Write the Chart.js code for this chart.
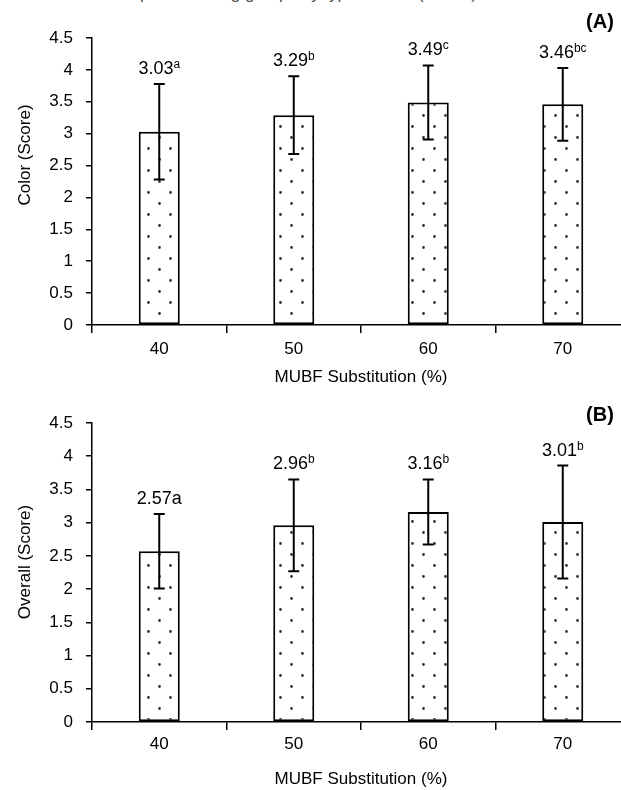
<!DOCTYPE html>
<html>
<head>
<meta charset="utf-8">
<script src="https://cdn.jsdelivr.net/npm/chart.js@4.4.0/dist/chart.umd.min.js"></script>
<style>
  html, body { margin: 0; padding: 0; background: #fff; overflow: hidden; }
  #wrap { position: relative; width: 621px; height: 790px; overflow: hidden; }
  .panel { position: absolute; left: 0; width: 640px; height: 395px; }
  #leyenda { position: absolute; top: -16px; left: 108px; font: 17px 'Liberation Sans', sans-serif; color: #555; white-space: nowrap; }
</style>
</head>
<body>
<div id="wrap">
  <div id="leyenda">compared among groups by type of flour (n = 30)</div>
  <div class="panel" style="top:0"><canvas id="chart-color" width="640" height="395"></canvas></div>
  <div class="panel" style="top:395px"><canvas id="chart-general" width="640" height="395"></canvas></div>
</div>
<script>
// Datos
const sustitucion = ['40', '50', '60', '70'];
const colorMedia = [3.03, 3.29, 3.49, 3.46];
const colorDE = [0.75, 0.61, 0.58, 0.57];
const colorLetras = ['a', 'b', 'c', 'bc'];
const generalMedia = [2.57, 2.96, 3.16, 3.01];
const generalDE = [0.56, 0.69, 0.49, 0.85];
const generalLetras = ['a', 'b', 'b', 'b'];
const generalSuper = [false, true, true, true];

const FUENTE = "'Liberation Sans', Arial, sans-serif";

// Relleno punteado de las barras
function crearPatron(ctx) {
    const c = document.createElement('canvas');
    c.width = 22; c.height = 22;
    const g = c.getContext('2d');
    g.fillStyle = '#fff';
    g.fillRect(0, 0, 22, 22);
    g.fillStyle = '#333';
    g.beginPath();
    g.arc(5.5, 5.5, 1.4, 0, Math.PI * 2);
    g.arc(16.5, 16.5, 1.4, 0, Math.PI * 2);
    g.fill();
    return ctx.createPattern(c, 'repeat');
}

// Barras de error, etiquetas, titulo del eje Y y letra del panel
const extras = {
    id: 'extras',
    afterDatasetsDraw(chart, args, opts) {
        const ctx = chart.ctx;
        const y = chart.scales.y;
        const meta = chart.getDatasetMeta(0);
        ctx.save();
        ctx.strokeStyle = '#000';
        ctx.lineWidth = 2;
        meta.data.forEach((bar, i) => {
            const m = opts.medias[i], de = opts.de[i];
            const yTop = y.getPixelForValue(m + de);
            const yBot = y.getPixelForValue(m - de);
            const x = bar.x;
            ctx.beginPath();
            ctx.moveTo(x, yTop); ctx.lineTo(x, yBot);
            ctx.moveTo(x - 5.5, yTop); ctx.lineTo(x + 5.5, yTop);
            ctx.moveTo(x - 5.5, yBot); ctx.lineTo(x + 5.5, yBot);
            ctx.stroke();

            // etiqueta con letra
            const texto = m.toFixed(2);
            const letra = opts.letras[i];
            const sup = opts.sup ? opts.sup[i] : true;
            const fPrin = '18px ' + FUENTE;
            const fSup = (sup ? '12px ' : '18px ') + FUENTE;
            ctx.font = fPrin;
            const w1 = ctx.measureText(texto).width;
            ctx.font = fSup;
            const w2 = ctx.measureText(letra).width;
            const x0 = x - (w1 + w2) / 2;
            const base = yTop - 10;
            ctx.fillStyle = '#000';
            ctx.textAlign = 'left';
            ctx.textBaseline = 'alphabetic';
            ctx.font = fPrin;
            ctx.fillText(texto, x0, base);
            ctx.font = fSup;
            ctx.fillText(letra, x0 + w1, sup ? base - 6 : base);
        });

        // titulo eje Y
        ctx.save();
        ctx.translate(opts.tituloX, opts.tituloY);
        ctx.rotate(-Math.PI / 2);
        ctx.font = '17px ' + FUENTE;
        ctx.textAlign = 'center';
        ctx.textBaseline = 'middle';
        ctx.fillText(opts.tituloY_texto, 0, 0);
        ctx.restore();

        // letra del panel
        ctx.font = 'bold 20px ' + FUENTE;
        ctx.textAlign = 'center';
        ctx.textBaseline = 'middle';
        ctx.fillText(opts.panel, 600, opts.panelY);
        ctx.restore();
    }
};

function crearGrafico(id, medias, de, letras, sup, cfg) {
    const canvas = document.getElementById(id);
    const ctx = canvas.getContext('2d');
    return new Chart(canvas, {
        type: 'bar',
        data: {
            labels: sustitucion,
            datasets: [{
                data: medias,
                backgroundColor: crearPatron(ctx),
                borderColor: '#000',
                borderWidth: 2,
                borderSkipped: false,
                categoryPercentage: 1,
                barPercentage: 0.305
            }]
        },
        options: {
            responsive: false,
            animation: false,
            layout: { padding: { top: cfg.arriba, right: 10, left: 0, bottom: 0 } },
            plugins: {
                legend: { display: false },
                tooltip: { enabled: false },
                extras: {
                    medias: medias, de: de, letras: letras, sup: sup,
                    tituloX: 25, tituloY: cfg.tituloY, tituloY_texto: cfg.tituloTexto,
                    panel: cfg.panel, panelY: cfg.panelY
                }
            },
            scales: {
                x: {
                    afterFit(s) { s.height = cfg.altoX; },
                    border: { display: true, color: '#000', width: 1.5 },
                    grid: { drawOnChartArea: false, drawTicks: true, tickLength: 8, color: '#000', lineWidth: 1.5 },
                    ticks: { color: '#000', padding: cfg.padX, font: { size: 17, family: FUENTE } },
                    title: {
                        display: true, text: 'MUBF Substitution (%)', color: '#000',
                        font: { size: 17, family: FUENTE }, padding: { top: 0, bottom: cfg.padTitulo }
                    }
                },
                y: {
                    min: 0, max: 4.5,
                    afterFit(s) { s.width = 92; },
                    border: { display: true, color: '#000', width: 1.5 },
                    grid: { drawOnChartArea: false, drawTicks: true, tickLength: 6, color: '#000', lineWidth: 1.5 },
                    ticks: {
                        stepSize: 0.5, color: '#000', padding: 13, font: { size: 17, family: FUENTE },
                        callback: (v) => String(v)
                    }
                }
            }
        },
        plugins: [extras]
    });
}

crearGrafico('chart-color', colorMedia, colorDE, colorLetras, null, {
    arriba: 38, altoX: 70, padX: 5.8, padTitulo: 7.8,
    tituloY: 155, tituloTexto: 'Color (Score)', panel: '(A)', panelY: 22
});
crearGrafico('chart-general', generalMedia, generalDE, generalLetras, generalSuper, {
    arriba: 28, altoX: 68, padX: 3.8, padTitulo: 0.8,
    tituloY: 167, tituloTexto: 'Overall (Score)', panel: '(B)', panelY: 20
});
</script>
</body>
</html>
